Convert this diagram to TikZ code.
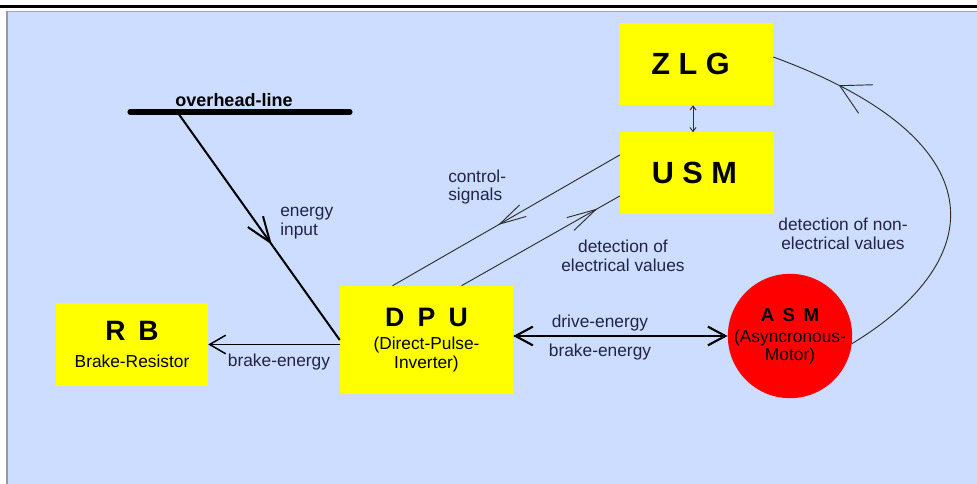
\documentclass[tikz,border=0pt]{standalone}
\usepackage{fontspec}
\setmainfont{Liberation Sans}
\usepackage{tikz}
\usetikzlibrary{calc,arrows.meta,decorations.markings}

\definecolor{panelblue}{RGB}{204,221,255}
\definecolor{boxyellow}{RGB}{255,255,0}
\definecolor{motorred}{RGB}{255,0,0}
\definecolor{labelink}{RGB}{35,35,70}
\definecolor{wireink}{RGB}{45,45,45}

\begin{document}
\begin{tikzpicture}[x=0.75pt, y=-0.75pt,
        unit/.style={fill=boxyellow, inner sep=0pt, align=center, text=black,
            font=\fontsize{13}{14}\selectfont},
        tag/.style={text=labelink, inner sep=0pt, font=\fontsize{13}{14}\selectfont},
        thinwire/.style={draw=wireink, line width=0.7pt},
        midarrow/.style 2 args={postaction={decorate},
            decoration={markings, mark=at position #1 with {\arrow{#2}}}}]
        \useasboundingbox (0,0) rectangle (977,484);

        % Draw panel
        \fill[white] (0,0) rectangle (977,484);
        \draw[line width=2.25pt] (0,7) -- (977,7);
        \fill[panelblue] (6,11) rectangle (977,484);
        \draw[gray!70, line width=0.6pt] (6,11) -- (977,11);
        \draw[gray!80, line width=1.5pt] (7,11) -- (7,484);

        % Units
        \node[unit, minimum width=115.5pt, minimum height=61.5pt] (zlg) at (696,64)
            {\fontsize{23}{26}\selectfont\bfseries Z L G\hspace{8pt}};
        \node[unit, minimum width=115.5pt, minimum height=61.5pt] (usm) at (697,173)
            {\fontsize{23}{26}\selectfont\bfseries U S M\hspace{4pt}};
        \node[unit, minimum width=129.75pt, minimum height=81pt] (dpu) at (426.5,340)
            {{\fontsize{20}{24}\selectfont\bfseries D\hspace{0.5em}P\hspace{0.5em}U}\\[3pt]
             (Direct-Pulse-\\Inverter)};
        \node[unit, minimum width=114pt, minimum height=62.25pt] (rb) at (132,344.5)
            {{\fontsize{21}{24}\selectfont\bfseries R\hspace{0.45em}B}\\[6pt]
             Brake-Resistor};
        \node[circle, fill=motorred, inner sep=0pt, minimum size=84.75pt, align=center,
            font=\fontsize{13}{13.5}\selectfont] (asm) at (790,336)
            {{\fontsize{14}{16}\selectfont\bfseries A\hspace{0.45em}S\hspace{0.45em}M}\\[2pt]
             (Asyncronous-\\Motor)};

        % Overhead line
        \coordinate (olL) at (130,112);
        \coordinate (olR) at (350,112);
        \coordinate (feed) at (178,113);
        \draw[line width=3.8pt, line cap=round] (olL) -- (olR);
        \node[inner sep=0pt, font=\fontsize{13.5}{15}\selectfont\bfseries] (olname) at (234,100)
            {overhead-line};

        % Energy input
        \draw[line width=1.5pt, midarrow={0.58}{Straight Barb[length=19pt,width=14pt]}]
            (feed) -- (dpu.west);
        \node[tag, anchor=west, align=left] (feedtag) at (280,223) {energy\\input};

        % Brake-energy to resistor
        \draw[line width=1.1pt, -{Straight Barb[length=12pt,width=14pt]}]
            (rb.east -| dpu.west) -- (rb.east);
        \node[tag] (rbtag) at (279,362) {brake-energy};

        % Drive-energy / brake-energy
        \draw[line width=1.6pt, {Straight Barb[length=13pt,width=14pt]}-{Straight Barb[length=13pt,width=14pt]}]
            (dpu.east |- asm.west) -- (asm.west);
        \node[tag] (drivetag) at (600,323) {drive-energy};
        \node[tag] (braketag) at (600,352) {brake-energy};

        % ZLG <-> USM
        \draw[thinwire, {Straight Barb[length=3pt,width=4.5pt]}-{Straight Barb[length=3pt,width=4.5pt]}]
            ($(zlg.south)+(-3,0)$) -- ($(zlg.south)+(-3,27)$);

        % Control-signals and detection of electrical values
        \draw[thinwire, midarrow={0.535}{Straight Barb[length=20pt,width=10pt]}]
            ($(usm.west)+(0,-18)$) -- ($(dpu.north)+(-34,0)$);
        \node[tag, anchor=west, align=left] (ctrltag) at (448,187) {control-\\signals};
        \draw[thinwire, midarrow={0.86}{Straight Barb[length=22pt,width=11pt]}]
            ($(dpu.north)+(35,0)$) -- ($(usm.west)+(0,23)$);
        \node[tag, align=center] (electag) at (623,256) {detection of\\electrical values};

        % Detection of non-electrical values
        \draw[thinwire, midarrow={0.83}{Straight Barb[length=22pt,width=24pt]}]
            (asm.-7) .. controls (990,260) and (1000,140) .. ($(zlg.east)+(0,-7)$);
        \node[tag, align=center] (noneltag) at (843,234) {detection of non-\\electrical values};
    \end{tikzpicture}
\end{document}
